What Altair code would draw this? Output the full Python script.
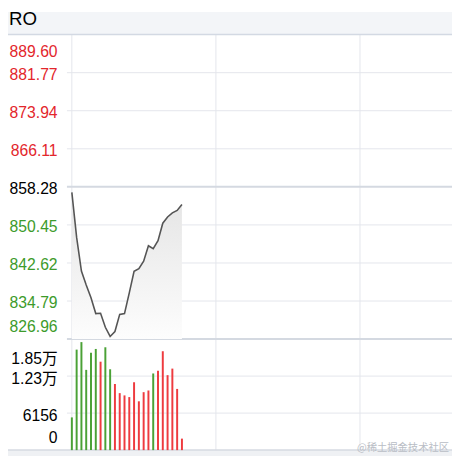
import altair as alt
import pandas as pd

# ---- data ----
minute_idx = list(range(24))
price = [857.13, 847.87, 840.96, 838.07, 835.45, 832.21, 832.27, 829.39, 827.51, 828.52,
         832.05, 832.21, 836.46, 840.90, 841.47, 842.98, 846.16, 845.55, 847.21, 850.80,
         852.08, 852.93, 853.43, 854.64]
volume = [5440, 16720, 17970, 13350, 16180, 16830, 14710, 17110, 13450, 11000,
          9480, 9100, 8820, 11280, 8120, 9640, 9920, 12750, 13190, 16450,
          12470, 13560, 10180, 1910]
vol_up = [0, 0, 0, 0, 0, 0, 1, 0, 0, 1, 1, 1, 1, 1, 1, 1, 1, 0, 1, 1, 1, 1, 1, 1]

prev_close = 858.28
price_ticks = [889.60, 881.77, 873.94, 866.11, 858.28, 850.45, 842.62, 834.79, 826.96]
price_tick_text = ["889.60", "881.77", "873.94", "866.11", "858.28", "850.45", "842.62", "834.79", "826.96"]
vol_ticks = [18468, 12312, 6156, 0]
vol_tick_text = ["1.85万", "1.23万", "6156", "0"]
time_grid = [0, 30.1, 60.2]
header_text = "RO"
watermark = "@稀土掘金技术社区"

RED = "#e3262c"
GREEN = "#3d9b2b"
BAR_RED = "#ee3b3f"
BAR_GREEN = "#4aa136"
GRID = "#e3e6ec"
GRID_STRONG = "#d4d9e1"

W, H = 452, 452
xscale = alt.Scale(domain=[0, 78.4], range=[60, 452])
pscale = alt.Scale(domain=[826.96, 889.60], range=[333, 23])
vscale = alt.Scale(domain=[0, 18468], range=[446, 333])

df = pd.DataFrame({"i": minute_idx, "price": price, "vol": volume,
                   "up": ["up" if u else "down" for u in vol_up]})

def pcolor(v):
    if abs(v - prev_close) < 1e-6:
        return "#000000"
    return RED if v > prev_close else GREEN

n = len(price_ticks)
ptick_df = pd.DataFrame({"v": price_ticks, "t": price_tick_text,
                         "c": [pcolor(v) for v in price_ticks],
                         "pos": ["top"] + ["mid"] * (n - 2) + ["bot"]})
vtick_df = pd.DataFrame({"v": vol_ticks, "t": vol_tick_text,
                         "pos": ["top", "mid", "mid", "bot"]})

X = lambda: alt.X("i:Q", scale=xscale, axis=None)

# background bands
header = alt.Chart(pd.DataFrame({"a": [0]})).mark_rect(color="#f3f5f8").encode(
    x=alt.value(0), x2=alt.value(W), y=alt.value(0), y2=alt.value(23))
footer = alt.Chart(pd.DataFrame({"a": [0]})).mark_rect(color="#eff1f4").encode(
    x=alt.value(0), x2=alt.value(W), y=alt.value(446), y2=alt.value(H))
header_txt = alt.Chart(pd.DataFrame({"t": [header_text]})).mark_text(
    align="left", baseline="middle", font="Liberation Sans", fontSize=19, color="#000000"
).encode(text="t:N", x=alt.value(1), y=alt.value(7))

# grid lines
pg_thin = alt.Chart(ptick_df[(ptick_df.v != prev_close) & (ptick_df.pos == "mid")]).mark_rule(
    color=GRID, strokeWidth=1).encode(
    y=alt.Y("v:Q", scale=pscale, axis=None), x=alt.value(60), x2=alt.value(W))
pg_ref = alt.Chart(ptick_df[ptick_df.v == prev_close]).mark_rule(
    color=GRID_STRONG, strokeWidth=2).encode(
    y=alt.Y("v:Q", scale=pscale, axis=None), x=alt.value(60), x2=alt.value(W))
pg_sep = alt.Chart(ptick_df[ptick_df.pos == "bot"]).mark_rule(
    color=GRID_STRONG, strokeWidth=2).encode(
    y=alt.Y("v:Q", scale=pscale, axis=None), x=alt.value(60), x2=alt.value(W))
pg_top = alt.Chart(ptick_df[ptick_df.pos == "top"]).mark_rule(
    color="#d3d9e3", strokeWidth=1.5).encode(
    y=alt.Y("v:Q", scale=pscale, axis=None), x=alt.value(0), x2=alt.value(W))
vg_thin = alt.Chart(vtick_df[vtick_df.pos == "mid"]).mark_rule(
    color=GRID, strokeWidth=1).encode(
    y=alt.Y("v:Q", scale=vscale, axis=None), x=alt.value(60), x2=alt.value(W))
vg_bot = alt.Chart(vtick_df[vtick_df.pos == "bot"]).mark_rule(
    color="#d6dae2", strokeWidth=1.5).encode(
    y=alt.Y("v:Q", scale=vscale, axis=None), x=alt.value(0), x2=alt.value(W))
tgrid = alt.Chart(pd.DataFrame({"i": time_grid})).mark_rule(
    color=GRID, strokeWidth=1).encode(
    x=X(), y=alt.value(23), y2=alt.value(446))

# price area + line
area = alt.Chart(df).mark_area(
    color=alt.Gradient(gradient="linear",
                       stops=[alt.GradientStop(color="#e4e4e4", offset=0),
                              alt.GradientStop(color="#fdfdfd", offset=1)],
                       x1=1, x2=1, y1=0, y2=1)
).encode(x=X(), y=alt.Y("price:Q", scale=pscale, axis=None), y2=alt.datum(826.96))
line = alt.Chart(df).mark_line(color="#555555", strokeWidth=1.6).encode(
    x=X(), y=alt.Y("price:Q", scale=pscale, axis=None))

# volume bars
bars = alt.Chart(df).mark_bar(size=2).encode(
    x=X(), y=alt.Y("vol:Q", scale=vscale, axis=None), y2=alt.datum(0),
    color=alt.Color("up:N", scale=alt.Scale(domain=["up", "down"], range=[BAR_RED, BAR_GREEN]),
                    legend=None))

# labels
FONT = "Liberation Sans, Noto Sans CJK SC"
FS = 16
def plabels(pos, dy):
    return alt.Chart(ptick_df[ptick_df.pos == pos]).mark_text(
        align="right", baseline="middle", font=FONT, fontSize=FS, dy=dy).encode(
        y=alt.Y("v:Q", scale=pscale, axis=None), x=alt.value(50.5), text="t:N",
        color=alt.Color("c:N", scale=None, legend=None))

def vlabels(pos, dy):
    return alt.Chart(vtick_df[vtick_df.pos == pos]).mark_text(
        align="right", baseline="middle", font=FONT, fontSize=FS, dy=dy, color="#000000").encode(
        y=alt.Y("v:Q", scale=vscale, axis=None), x=alt.value(50.5), text="t:N")

wm = alt.Chart(pd.DataFrame({"t": [watermark]})).mark_text(
    align="right", baseline="middle", font="Noto Sans CJK SC", fontSize=10.5, color="#b9bdc5"
).encode(text="t:N", x=alt.value(449), y=alt.value(444))

chart = alt.layer(
    header, footer, header_txt,
    pg_thin, vg_thin, tgrid, pg_ref, pg_sep, pg_top, vg_bot,
    area, line, bars,
    plabels("top", 18), plabels("mid", 2.5), plabels("bot", -12),
    vlabels("top", 20), vlabels("mid", 3), vlabels("bot", -12),
    wm
).resolve_scale(y="independent", color="independent").properties(
    width=W, height=H, autosize=alt.AutoSizeParams(type="none"), padding=0
).configure_view(strokeWidth=0)

chart.save("out.html", embed_options={"renderer": "svg", "actions": False})
